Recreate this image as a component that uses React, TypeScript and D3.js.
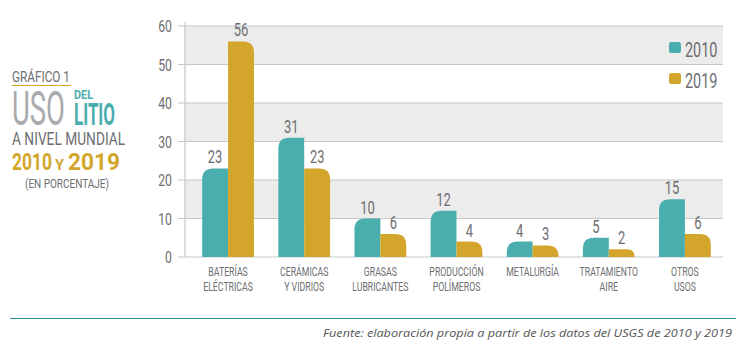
import React, { useLayoutEffect, useRef, useState } from 'react';
import * as d3 from 'd3';

const categories = [
  ['BATERÍAS', 'ELÉCTRICAS'],
  ['CERÁMICAS', 'Y VIDRIOS'],
  ['GRASAS', 'LUBRICANTES'],
  ['PRODUCCIÓN', 'POLÍMEROS'],
  ['METALURGÍA'],
  ['TRATAMIENTO', 'AIRE'],
  ['OTROS', 'USOS'],
];
const values2010 = [23, 31, 10, 12, 4, 5, 15];
const values2019 = [56, 23, 6, 4, 3, 2, 6];
const yTicks = [0, 10, 20, 30, 40, 50, 60];
const seriesNames = ['2010', '2019'];

const TEAL = '#4aaeae';
const GOLD = '#d3a62b';
const GREY = '#6d6e71';
const LIGHT = '#a8aaad';
const FONT = 'Roboto, sans-serif';

const W = 746;
const H = 354;
const margin = { left: 185, right: 23, top: 26, bottom: 97 };

// condensed text: squeeze horizontally around its anchor
const T = ({ x, y, size, sx = 0.68, anchor = 'start', fill = GREY, weight = 'normal', children }: any) => (
  <text
    transform={`translate(${x},${y}) scale(${sx},1)`}
    textAnchor={anchor}
    fontFamily={FONT}
    fontSize={size}
    fontWeight={weight}
    fill={fill}
  >
    {children}
  </text>
);

// text squeezed to a given width (measured after mount)
const Fit = ({ x, y, w, size, fill = GREY, weight = 'normal', children }: any) => {
  const ref = useRef<SVGTextElement>(null);
  const [sx, setSx] = useState(0.7);
  useLayoutEffect(() => {
    if (ref.current) {
      const n = ref.current.getComputedTextLength();
      if (n > 0) setSx(w / n);
    }
  }, [w]);
  return (
    <text ref={ref} transform={`translate(${x},${y}) scale(${sx},1)`} fontFamily={FONT} fontSize={size} fontWeight={weight} fill={fill}>
      {children}
    </text>
  );
};

const barPath = (x: number, y: number, w: number, h: number, side: 'left' | 'right') => {
  const r = Math.min(11, h, w);
  if (side === 'left') {
    return `M${x},${y + h} L${x},${y + r} Q${x},${y} ${x + r},${y} L${x + w},${y} L${x + w},${y + h} Z`;
  }
  return `M${x},${y + h} L${x},${y} L${x + w - r},${y} Q${x + w},${y} ${x + w},${y + r} L${x + w},${y + h} Z`;
};

export default function App() {
  const plotRight = W - margin.right;
  const plotBottom = H - margin.bottom;
  const y = d3.scaleLinear().domain([0, 60]).range([plotBottom, margin.top]);
  const x = d3
    .scaleBand<number>()
    .domain(categories.map((_, i) => i))
    .range([margin.left + 5, plotRight])
    .paddingInner(0.32)
    .paddingOuter(0.16);
  const inner = d3.scaleBand<number>().domain([0, 1]).range([0, x.bandwidth()]);
  const bw = inner.bandwidth();

  const bands = [
    [50, 60],
    [30, 40],
    [10, 20],
  ];

  return (
    <svg width={W} height={H} style={{ position: 'absolute', left: 0, top: 0, background: '#fff' }}>
      {/* title block */}
      <Fit x={12} y={82} w={58} size={15}>GRÁFICO 1</Fit>
      <line x1={12} x2={71} y1={85.5} y2={85.5} stroke={GOLD} strokeWidth={1.2} />
      <Fit x={12} y={125} w={53} size={48} fill={LIGHT}>USO</Fit>
      <Fit x={74} y={99} w={19} size={12} weight="bold" fill={TEAL}>DEL</Fit>
      <Fit x={74} y={125} w={41} size={32} weight="bold" fill={TEAL}>LITIO</Fit>
      <Fit x={12} y={145} w={113} size={18}>A NIVEL MUNDIAL</Fit>
      <Fit x={12} y={170} w={40} size={23} weight="bold" fill={GOLD}>2010</Fit>
      <Fit x={55} y={170} w={9} size={14} weight="bold" fill={GOLD}>Y</Fit>
      <Fit x={68} y={170} w={52} size={23} weight="bold" fill={GOLD}>2019</Fit>
      <Fit x={25} y={188} w={84} size={13}>(EN PORCENTAJE)</Fit>

      {/* grey bands */}
      {bands.map(([a, b]) => (
        <rect key={a} x={margin.left} width={plotRight - margin.left} y={y(b)} height={y(a) - y(b)} fill="#ececec" />
      ))}
      {/* gridlines */}
      {yTicks.map((t) => (
        <g key={t}>
          <line x1={margin.left - 7} x2={plotRight} y1={y(t)} y2={y(t)} stroke="#c6c7c9" strokeWidth={1.2} />
          <T x={margin.left - 13} y={y(t) + 6} size={17} sx={0.72} anchor="end">{t}</T>
        </g>
      ))}
      <line x1={margin.left} x2={margin.left} y1={margin.top - 4} y2={plotBottom} stroke="#c6c7c9" strokeWidth={1.2} />

      {/* bars */}
      {categories.map((lines, i) => {
        const x0 = x(i)!;
        const v = [values2010[i], values2019[i]];
        return (
          <g key={i}>
            {v.map((val, s) => {
              const bx = x0 + inner(s)!;
              const by = y(val);
              return (
                <g key={s}>
                  <path d={barPath(bx, by, bw, plotBottom - by, s === 0 ? 'left' : 'right')} fill={s === 0 ? TEAL : GOLD} />
                  <T x={bx + bw / 2} y={by - 5} size={18} sx={0.72} anchor="middle">{val}</T>
                </g>
              );
            })}
            {lines.map((l, k) => (
              <T key={k} x={x0 + x.bandwidth() / 2} y={plotBottom + 19 + k * 15} size={12.5} sx={0.7} anchor="middle">
                {l}
              </T>
            ))}
          </g>
        );
      })}

      {/* legend */}
      {seriesNames.map((n, i) => (
        <g key={n}>
          <rect x={669} y={42 + i * 31} width={12} height={11} rx={2.5} fill={i === 0 ? TEAL : GOLD} />
          <T x={685} y={57 + i * 31} size={20} sx={0.72}>{n}</T>
        </g>
      ))}

      {/* footer */}
      <line x1={10} x2={736} y1={318.5} y2={318.5} stroke="#2f8f8c" strokeWidth={1.2} />
      <text x={323} y={337} fontFamily="'Open Sans', sans-serif" fontStyle="italic" fontSize={11.5} fill="#555" textLength={409} lengthAdjust="spacingAndGlyphs">
        Fuente: elaboración propia a partir de los datos del USGS de 2010 y 2019
      </text>
    </svg>
  );
}
